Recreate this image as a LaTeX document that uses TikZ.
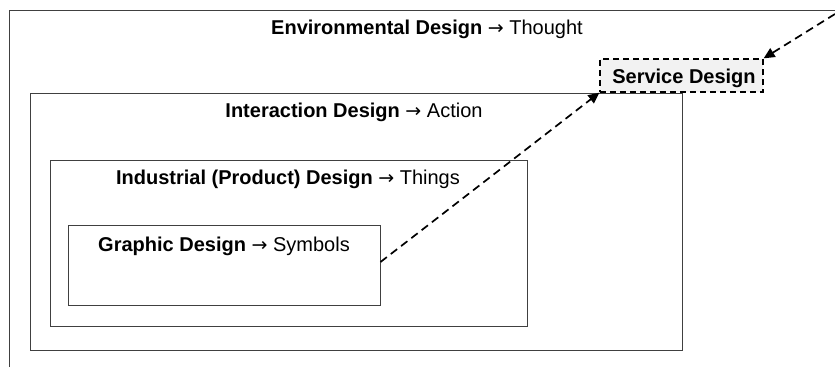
\documentclass[tikz,border=0pt]{standalone}
\usepackage{fontspec}
\setmainfont{Liberation Sans}
\newfontfamily\arrowfont{DejaVu Sans}
\usetikzlibrary{arrows.meta}
\definecolor{c1}{HTML}{F2F2F2}
\definecolor{c2}{HTML}{404040}
\newcommand{\goesto}{{\arrowfont\fontsize{19}{22}\selectfont →}}

\begin{document}
\begin{tikzpicture}[x=1pt, y=-1pt,
    box/.style={draw=c2, line width=1pt, inner sep=0pt},
    title/.style={font=\fontsize{20}{23}\selectfont, inner sep=0pt, anchor=base},
    conn/.style={line width=1.7pt, dash pattern=on 8pt off 5pt, -{Triangle[length=11pt, width=10pt]}}]
    \useasboundingbox (0,0) rectangle (835,367);
    % nested fields
    \draw[c2, line width=1pt] (9,367) -- (9,10) -- (835,10);
    \node[box, minimum width=652, minimum height=257] (interaction) at (356,221.5) {};
    \node[box, minimum width=477, minimum height=166] (industrial) at (288.5,243) {};
    \node[box, minimum width=312, minimum height=80] (graphic) at (224,265) {};
    \node[title] (envtxt) at (427,34) {\textbf{Environmental Design} \goesto{} Thought};
    \node[title] (interactiontxt) at (354,117) {\textbf{Interaction Design} \goesto{} Action};
    \node[title] (industrialtxt) at (288,184) {\textbf{Industrial (Product) Design} \goesto{} Things};
    \node[title] (graphictxt) at (224,251) {\textbf{Graphic Design} \goesto{} Symbols};
    % service design
    \node[box, fill=c1, dash pattern=on 6pt off 4pt, line width=1.3pt, draw=black, minimum width=163, minimum height=33] (service) at (681.5,75.5) {};
    \node[title] (servicetxt) at (684,83) {\textbf{Service Design}};
    \coordinate (corner) at (835,14);
    \draw[conn] ([yshift=3pt]graphic.east) -- (service.south west);
    \draw[conn] (corner) -- (service.north east);
\end{tikzpicture}
\end{document}
